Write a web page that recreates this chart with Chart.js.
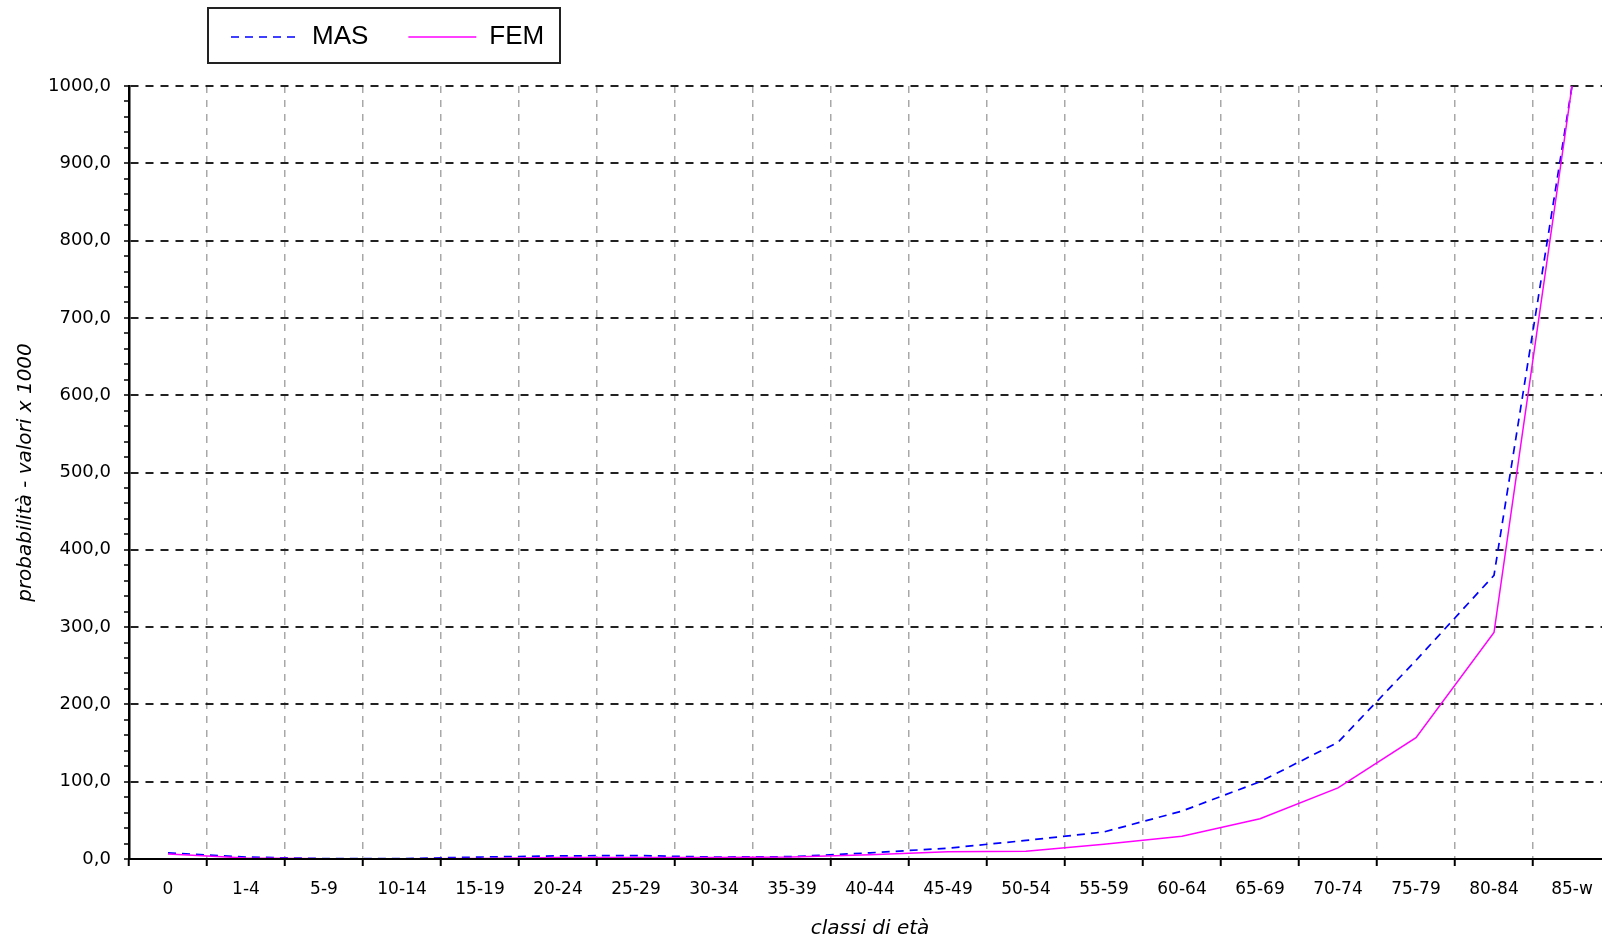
<!DOCTYPE html>
<html>
<head>
<meta charset="utf-8">
<title>probabilità per classi di età</title>
<script src="https://cdn.jsdelivr.net/npm/chart.js@4.4.1/dist/chart.umd.min.js"></script>
<style>
    html, body { margin: 0; padding: 0; background: #fff; overflow: hidden; }
    #wrap { width: 1640px; height: 942px; }
</style>
</head>
<body>
<div id="wrap"><canvas id="probChart" width="1640" height="942"></canvas></div>
<script>
// ── DATA ──
const categories = ['0', '1-4', '5-9', '10-14', '15-19', '20-24', '25-29', '30-34', '35-39',
    '40-44', '45-49', '50-54', '55-59', '60-64', '65-69', '70-74', '75-79', '80-84', '85-w'];
const masValues = [8, 2.5, 0.5, 0.5, 2.5, 4, 4.5, 2.5, 3, 8, 14, 24, 35, 62, 100, 151, 257, 367, 1000];
const femValues = [6.5, 1.2, 0.3, 0.3, 0.5, 1.8, 2, 2, 2.5, 5.5, 9.5, 10, 19, 29.5, 52, 92, 157, 293, 1000];
const yMin = 0;
const yMax = 1000;
const yLabelStep = 100;   // labelled ticks
const yTickCount = 51;    // minor ticks every 20

const xTickFont = { family: '"DejaVu Sans", sans-serif', size: 17 };
const yTickFont = { family: '"DejaVu Sans", sans-serif', size: 18 };
const titleFont = { family: '"DejaVu Sans", sans-serif', size: 20, style: 'italic' };

// legend moved by hand + black frame round it
const legendFrame = {
    id: 'legendFrame',
    afterUpdate(chart) {
        const lg = chart.legend;
        lg.left = 191;
        lg.top = -16;
        lg.adjustHitBoxes();
    },
    afterDraw(chart) {
        const hits = chart.legend.legendHitBoxes;
        if (!hits || !hits.length) return;
        const last = hits[hits.length - 1];
        const x0 = Math.round(hits[0].left) - 23;
        const x1 = Math.round(last.left + last.width) + 16;
        const ctx = chart.ctx;
        ctx.save();
        ctx.strokeStyle = '#222';
        ctx.lineWidth = 2;
        ctx.strokeRect(x0, 8, x1 - x0, 55);
        ctx.restore();
    }
};

const ctx = document.getElementById('probChart').getContext('2d');
new Chart(ctx, {
    type: 'line',
    data: {
        labels: categories,
        datasets: [{
            label: 'MAS',
            data: masValues,
            borderColor: '#0000ff',
            backgroundColor: '#0000ff',
            borderWidth: 1.7,
            borderDash: [8, 6],
            pointRadius: 0,
            tension: 0,
            fill: false,
            order: 1
        }, {
            label: 'FEM',
            data: femValues,
            borderColor: '#ff00ff',
            backgroundColor: '#ff00ff',
            borderWidth: 1.5,
            pointRadius: 0,
            tension: 0,
            fill: false,
            order: 0
        }]
    },
    options: {
        responsive: false,
        animation: false,
        layout: { padding: { top: 10, left: 0, right: 29, bottom: 0 } },
        plugins: {
            legend: {
                position: 'top',
                align: 'start',
                labels: {
                    usePointStyle: true,
                    pointStyle: 'line',
                    pointStyleWidth: 68,
                    padding: 40,
                    color: '#000',
                    font: { family: '"Liberation Sans", Arial, sans-serif', size: 26 },
                    sort: (a, b) => a.datasetIndex - b.datasetIndex,
                    generateLabels: (chart) => Chart.defaults.plugins.legend.labels.generateLabels(chart).map((item) => {
                        const ds = chart.data.datasets[item.datasetIndex];
                        return Object.assign(item, { lineDash: ds.borderDash || [], lineWidth: ds.borderWidth, strokeStyle: ds.borderColor });
                    })
                }
            },
            tooltip: { enabled: false }
        },
        scales: {
            x: {
                offset: true,
                afterFit: (s) => { s.height = 83; },
                grid: {
                    offset: true,
                    color: '#a8a8a8',
                    lineWidth: 1.5,
                    tickColor: '#000',
                    tickWidth: 2,
                    tickLength: 7
                },
                border: { display: true, color: '#000', width: 2, dash: [7, 7], z: 1 },
                ticks: { color: '#000', font: xTickFont, padding: 13, maxRotation: 0, autoSkip: false },
                title: { display: true, text: 'classi di età', color: '#000', font: titleFont, padding: { top: 0, bottom: 1 } }
            },
            y: {
                min: yMin,
                max: yMax,
                afterFit: (s) => { s.width = 129; },
                grid: {
                    color: (c) => (c.tick && c.tick.value % yLabelStep === 0) ? '#222' : 'rgba(0,0,0,0)',
                    lineWidth: 2,
                    tickColor: '#000',
                    tickWidth: 1.5,
                    tickLength: 5
                },
                border: { display: true, color: '#000', width: 2.5, dash: [8, 7], z: 1 },
                ticks: {
                    count: yTickCount,
                    autoSkip: false,
                    color: '#000',
                    font: yTickFont,
                    padding: 13,
                    callback: (v) => v % yLabelStep === 0 ? v.toFixed(1).replace('.', ',') : ''
                },
                title: { display: true, text: 'probabilità - valori x 1000', color: '#000', font: titleFont, padding: { top: 14, bottom: 0 } }
            }
        }
    },
    plugins: [legendFrame]
});
</script>
</body>
</html>
